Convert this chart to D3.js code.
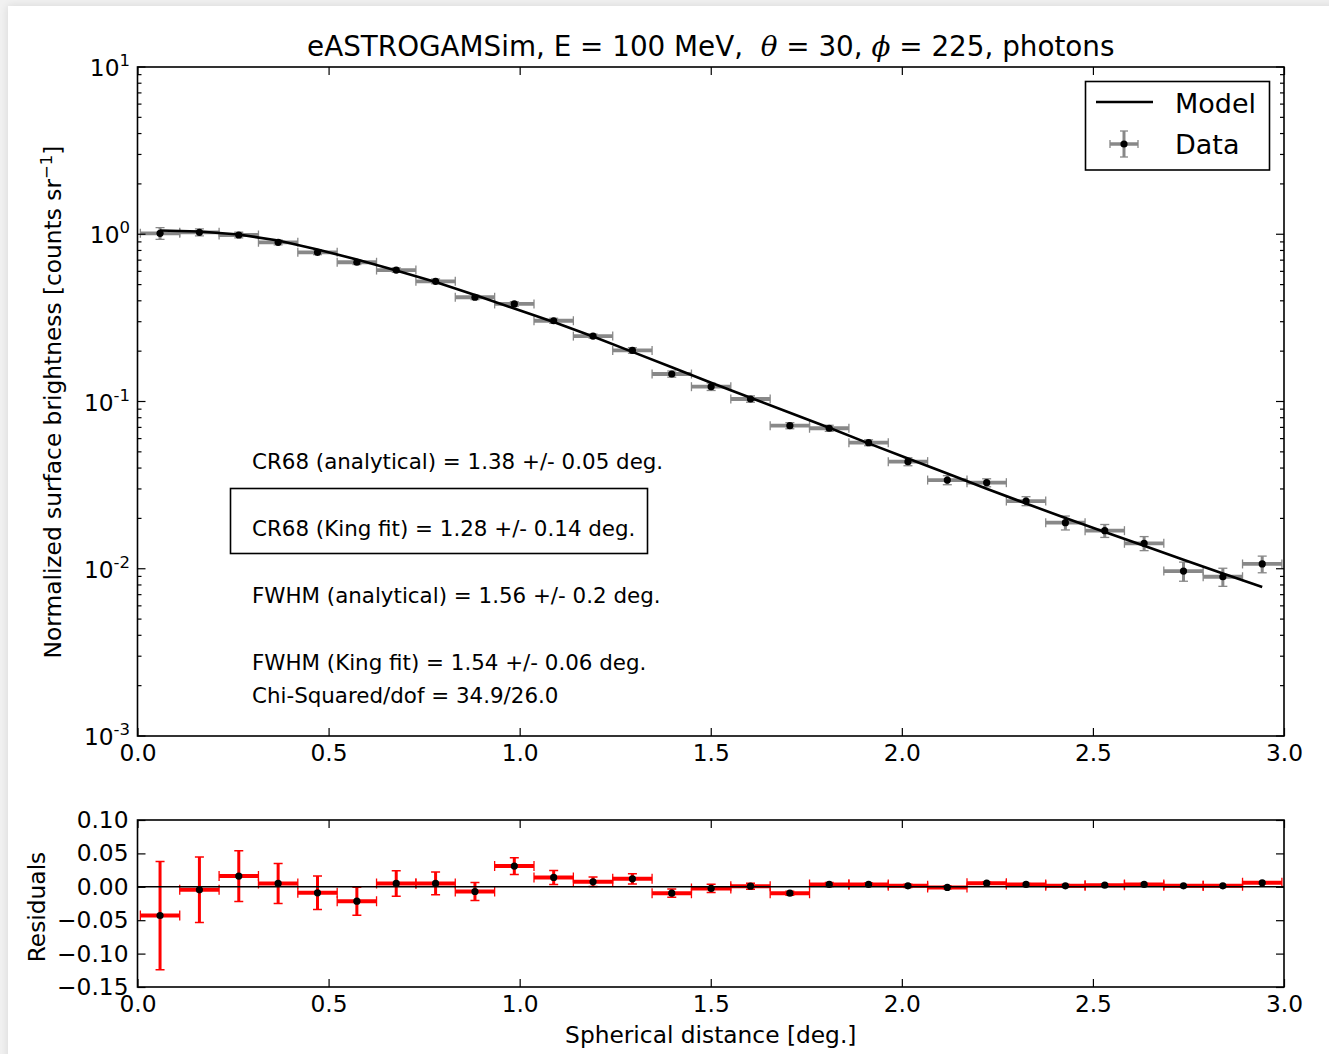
<!DOCTYPE html>
<html>
<head>
<meta charset="utf-8">
<script src="https://cdn.jsdelivr.net/npm/d3@7"></script>
<style>
  body { margin: 0; background: #f1f1f1; }
  svg { display: block; font-family: "DejaVu Sans", "Bitstream Vera Sans", sans-serif; }
</style>
</head>
<body>
<svg id="chart" width="1329" height="1054"></svg>
<script>
// Radial bins (deg.) and their half widths
const binCenters = [0.059, 0.162, 0.265, 0.368, 0.471, 0.574, 0.677, 0.780, 0.883, 0.986,
                    1.089, 1.192, 1.295, 1.398, 1.501, 1.604, 1.707, 1.810, 1.913, 2.016,
                    2.119, 2.222, 2.325, 2.428, 2.531, 2.634, 2.737, 2.840, 2.943];
const binHalfWidth = 0.0515;

// Measured surface brightness per bin and its uncertainty
const brightness = [1.013, 1.027, 0.990, 0.895, 0.780, 0.680, 0.611, 0.523, 0.420, 0.383,
                    0.304, 0.246, 0.202, 0.146, 0.1226, 0.1035, 0.0717, 0.0692, 0.0567, 0.0437,
                    0.0339, 0.0327, 0.0254, 0.01886, 0.01689, 0.0142, 0.00969, 0.00896, 0.01068];
const brightnessErr = [0.081, 0.049, 0.038, 0.030, 0.025, 0.021, 0.019, 0.017, 0.0135, 0.0125,
                       0.0105, 0.0072, 0.0077, 0.0062, 0.0062, 0.0045, 0.0030, 0.0029, 0.0023, 0.0024,
                       0.0021, 0.0018, 0.00157, 0.0018, 0.0015, 0.00137, 0.00127, 0.00111, 0.00122];

// King-function model evaluated at the bin centres
const model = [1.053, 1.039, 0.9966, 0.9175, 0.8107, 0.7066, 0.6070, 0.5182, 0.4333, 0.3598,
               0.2987, 0.2446, 0.1980, 0.1601, 0.1295, 0.1054, 0.0856, 0.0697, 0.0562, 0.0456,
               0.0371, 0.0301, 0.02455, 0.0201, 0.0166, 0.01373, 0.01133, 0.00937, 0.00778];

// Data minus model
const residuals = [-0.043, -0.0045, 0.016, 0.005, -0.009, -0.0215, 0.005, 0.005, -0.007, 0.031,
                   0.014, 0.0075, 0.012, -0.0095, -0.0025, 0.001, -0.0095, 0.0035, 0.0035, 0.0015,
                   -0.001, 0.0055, 0.0035, 0.0015, 0.0025, 0.0035, 0.0015, 0.0015, 0.006];

const xTicks = [0.0, 0.5, 1.0, 1.5, 2.0, 2.5, 3.0];
const yMainExponents = [-3, -2, -1, 0, 1];
const yResTicks = [-0.15, -0.10, -0.05, 0.00, 0.05, 0.10];

const fitResults = [
  "CR68 (analytical) = 1.38 +/- 0.05 deg.",
  "CR68 (King fit) = 1.28 +/- 0.14 deg.",
  "FWHM (analytical) = 1.56 +/- 0.2 deg.",
  "FWHM (King fit) = 1.54 +/- 0.06 deg.",
  "Chi-Squared/dof = 34.9/26.0"
];

const data = binCenters.map((x, i) => ({
  x, y: brightness[i], err: brightnessErr[i], m: model[i], r: residuals[i]
}));

const svg = d3.select("#chart");
const FONT = 23.3;

// page panel with a soft shadow along the top-left edge
const defs = svg.append("defs");
const f = defs.append("filter").attr("id", "shadow").attr("x", "-5%").attr("y", "-5%")
  .attr("width", "110%").attr("height", "110%");
f.append("feGaussianBlur").attr("in", "SourceAlpha").attr("stdDeviation", 4);
f.append("feOffset").attr("dx", 0).attr("dy", 0).attr("result", "b");
f.append("feComponentTransfer").append("feFuncA").attr("type", "linear").attr("slope", 0.12);
const fm = f.append("feMerge");
fm.append("feMergeNode");
fm.append("feMergeNode").attr("in", "SourceGraphic");
svg.append("rect").attr("x", 8).attr("y", 6).attr("width", 1340).attr("height", 1070)
  .attr("fill", "#fff").attr("filter", "url(#shadow)");

// scales
const L = 137.5, R = 1284;
const x = d3.scaleLinear().domain([0, 3]).range([L, R]);
const yMain = d3.scaleLog().domain([1e-3, 1e1]).range([736, 67]);
const yRes = d3.scaleLinear().domain([-0.15, 0.10]).range([987, 820]);

// ---------- main panel ----------
const main = svg.append("g");
const clipMain = defs.append("clipPath").attr("id", "clipMain");
clipMain.append("rect").attr("x", L).attr("y", 67).attr("width", R - L).attr("height", 736 - 67);
const mainPlot = main.append("g").attr("clip-path", "url(#clipMain)");

const GRAY = "#888888";
// horizontal bin bars
mainPlot.selectAll("line.xerr").data(data).join("line")
  .attr("x1", d => x(d.x - binHalfWidth)).attr("x2", d => x(d.x + binHalfWidth))
  .attr("y1", d => yMain(d.y)).attr("y2", d => yMain(d.y))
  .attr("stroke", GRAY).attr("stroke-width", 3.8);
mainPlot.selectAll("g.xcap").data(data).join("g").each(function (d) {
  const g = d3.select(this);
  [d.x - binHalfWidth, d.x + binHalfWidth].forEach(v => {
    g.append("line").attr("x1", x(v)).attr("x2", x(v))
      .attr("y1", yMain(d.y) - 4.5).attr("y2", yMain(d.y) + 4.5)
      .attr("stroke", GRAY).attr("stroke-width", 1.3);
  });
});
// vertical uncertainty bars
mainPlot.selectAll("line.yerr").data(data).join("line")
  .attr("x1", d => x(d.x)).attr("x2", d => x(d.x))
  .attr("y1", d => yMain(d.y - d.err)).attr("y2", d => yMain(d.y + d.err))
  .attr("stroke", GRAY).attr("stroke-width", 3);
mainPlot.selectAll("g.ycap").data(data).join("g").each(function (d) {
  const g = d3.select(this);
  [d.y - d.err, d.y + d.err].forEach(v => {
    g.append("line").attr("x1", x(d.x) - 4.5).attr("x2", x(d.x) + 4.5)
      .attr("y1", yMain(v)).attr("y2", yMain(v))
      .attr("stroke", GRAY).attr("stroke-width", 1.3);
  });
});
// model curve
mainPlot.append("path").datum(data)
  .attr("d", d3.line().x(d => x(d.x)).y(d => yMain(d.m)))
  .attr("fill", "none").attr("stroke", "#000").attr("stroke-width", 2.6);
// data points
mainPlot.selectAll("circle").data(data).join("circle")
  .attr("cx", d => x(d.x)).attr("cy", d => yMain(d.y)).attr("r", 3.6).attr("fill", "#000");

// main axes: inward ticks on all sides
const minorVals = [];
yMainExponents.slice(0, -1).forEach(e => { for (let k = 2; k <= 9; k++) minorVals.push(k * Math.pow(10, e)); });
const majorVals = yMainExponents.map(e => Math.pow(10, e));

function tickLines(g, vals, pos, len, orient) {
  vals.forEach(v => {
    const p = pos(v);
    if (orient === "left") g.append("line").attr("x1", L).attr("x2", L + len).attr("y1", p).attr("y2", p);
    if (orient === "right") g.append("line").attr("x1", R).attr("x2", R - len).attr("y1", p).attr("y2", p);
  });
}
const axMain = main.append("g").attr("stroke", "#000").attr("stroke-width", 1.2);
tickLines(axMain, majorVals, yMain, 8, "left");
tickLines(axMain, majorVals, yMain, 8, "right");
tickLines(axMain, minorVals, yMain, 4, "left");
tickLines(axMain, minorVals, yMain, 4, "right");

const xAxisMain = main.append("g").attr("transform", "translate(0,736)")
  .call(d3.axisBottom(x).tickValues(xTicks).tickFormat(d3.format(".1f")).tickSizeInner(-8).tickSizeOuter(0).tickPadding(8));
const xAxisMainTop = main.append("g").attr("transform", "translate(0,67)")
  .call(d3.axisTop(x).tickValues(xTicks).tickFormat("").tickSizeInner(-8).tickSizeOuter(0));
[xAxisMain, xAxisMainTop].forEach(a => {
  a.select(".domain").remove();
  a.selectAll(".tick line").attr("stroke-width", 1.2);
});
xAxisMain.selectAll("text").attr("font-size", FONT).attr("font-family", "DejaVu Sans").attr("fill", "#000");

// log tick labels 10^n
const yLab = main.append("g");
yMainExponents.forEach(e => {
  const t = yLab.append("text").attr("x", 130).attr("y", yMain(Math.pow(10, e)) + 9)
    .attr("text-anchor", "end").attr("font-size", FONT).attr("fill", "#000");
  t.append("tspan").text("10");
  t.append("tspan").attr("dy", -10).attr("font-size", 16.5).text(e < 0 ? "-" + Math.abs(e) : String(e));
});

main.append("rect").attr("x", L).attr("y", 67).attr("width", R - L).attr("height", 736 - 67)
  .attr("fill", "none").attr("stroke", "#000").attr("stroke-width", 1.6);

// title
const title = svg.append("text").attr("x", (L + R) / 2).attr("y", 56)
  .attr("text-anchor", "middle").attr("font-size", 27.8).attr("fill", "#000")
  .style("white-space", "pre");
title.append("tspan").text("eASTROGAMSim, E = 100 MeV,\u00a0\u00a0");
title.append("tspan").attr("font-style", "italic").attr("font-family", "DejaVu Serif").text("θ");
title.append("tspan").text(" = 30, ");
title.append("tspan").attr("font-style", "italic").attr("font-family", "DejaVu Serif").text("ϕ");
title.append("tspan").text(" = 225, photons");

// y axis label
const yl = svg.append("text").attr("transform", "translate(61,402) rotate(-90)")
  .attr("text-anchor", "middle").attr("font-size", FONT).attr("fill", "#000");
yl.append("tspan").text("Normalized surface brightness [counts sr");
yl.append("tspan").attr("dy", -9).attr("font-size", 16.5).text("−1");
yl.append("tspan").attr("dy", 9).text("]");

// legend
const leg = svg.append("g");
leg.append("rect").attr("x", 1085.5).attr("y", 81.5).attr("width", 184).attr("height", 88.5)
  .attr("fill", "#fff").attr("stroke", "#000").attr("stroke-width", 1.6);
leg.append("line").attr("x1", 1096).attr("x2", 1153).attr("y1", 102).attr("y2", 102)
  .attr("stroke", "#000").attr("stroke-width", 2.6);
leg.append("line").attr("x1", 1110).attr("x2", 1138).attr("y1", 144).attr("y2", 144)
  .attr("stroke", GRAY).attr("stroke-width", 3.5);
leg.append("line").attr("x1", 1124).attr("x2", 1124).attr("y1", 131).attr("y2", 157)
  .attr("stroke", GRAY).attr("stroke-width", 3);
[[1110, 1110, 140, 148], [1138, 1138, 140, 148], [1120, 1128, 131, 131], [1120, 1128, 157, 157]].forEach(c => {
  leg.append("line").attr("x1", c[0]).attr("x2", c[1]).attr("y1", c[2]).attr("y2", c[3])
    .attr("stroke", GRAY).attr("stroke-width", 1.3);
});
leg.append("circle").attr("cx", 1124).attr("cy", 144).attr("r", 3.6).attr("fill", "#000");
leg.append("text").attr("x", 1175).attr("y", 113).attr("font-size", 27).text("Model");
leg.append("text").attr("x", 1175).attr("y", 154).attr("font-size", 27).text("Data");

// fit summary text
const fitY = [469, 536, 603, 670, 703];
fitResults.forEach((s, i) => {
  svg.append("text").attr("x", 252).attr("y", fitY[i]).attr("font-size", 21.4).attr("fill", "#000").text(s);
});
svg.append("rect").attr("x", 230.5).attr("y", 488.5).attr("width", 417).attr("height", 65)
  .attr("fill", "none").attr("stroke", "#000").attr("stroke-width", 1.6);

// ---------- residual panel ----------
const res = svg.append("g");
const clipRes = defs.append("clipPath").attr("id", "clipRes");
clipRes.append("rect").attr("x", L).attr("y", 820).attr("width", R - L).attr("height", 167);
const resPlot = res.append("g").attr("clip-path", "url(#clipRes)");
const RED = "#ff0000";

resPlot.selectAll("line.xerr").data(data).join("line")
  .attr("x1", d => x(d.x - binHalfWidth)).attr("x2", d => x(d.x + binHalfWidth))
  .attr("y1", d => yRes(d.r)).attr("y2", d => yRes(d.r))
  .attr("stroke", RED).attr("stroke-width", 4);
resPlot.selectAll("g.xcap").data(data).join("g").each(function (d) {
  const g = d3.select(this);
  [d.x - binHalfWidth, d.x + binHalfWidth].forEach(v => {
    g.append("line").attr("x1", x(v)).attr("x2", x(v))
      .attr("y1", yRes(d.r) - 5).attr("y2", yRes(d.r) + 5)
      .attr("stroke", RED).attr("stroke-width", 1.3);
  });
});
resPlot.selectAll("line.yerr").data(data).join("line")
  .attr("x1", d => x(d.x)).attr("x2", d => x(d.x))
  .attr("y1", d => yRes(d.r - d.err)).attr("y2", d => yRes(d.r + d.err))
  .attr("stroke", RED).attr("stroke-width", 3);
resPlot.selectAll("g.ycap").data(data).join("g").each(function (d) {
  const g = d3.select(this);
  [d.r - d.err, d.r + d.err].forEach(v => {
    g.append("line").attr("x1", x(d.x) - 4.5).attr("x2", x(d.x) + 4.5)
      .attr("y1", yRes(v)).attr("y2", yRes(v))
      .attr("stroke", RED).attr("stroke-width", 1.5);
  });
});
resPlot.append("line").attr("x1", L).attr("x2", R).attr("y1", yRes(0)).attr("y2", yRes(0))
  .attr("stroke", "#000").attr("stroke-width", 1.5);
resPlot.selectAll("circle").data(data).join("circle")
  .attr("cx", d => x(d.x)).attr("cy", d => yRes(d.r)).attr("r", 3.6).attr("fill", "#000");

const xAxisRes = res.append("g").attr("transform", "translate(0,987)")
  .call(d3.axisBottom(x).tickValues(xTicks).tickFormat(d3.format(".1f")).tickSizeInner(-8).tickSizeOuter(0).tickPadding(8));
const xAxisResTop = res.append("g").attr("transform", "translate(0,820)")
  .call(d3.axisTop(x).tickValues(xTicks).tickFormat("").tickSizeInner(-8).tickSizeOuter(0));
const yAxisRes = res.append("g").attr("transform", `translate(${L},0)`)
  .call(d3.axisLeft(yRes).tickValues(yResTicks).tickFormat(d3.format(".2f")).tickSizeInner(-8).tickSizeOuter(0).tickPadding(9));
const yAxisResR = res.append("g").attr("transform", `translate(${R},0)`)
  .call(d3.axisRight(yRes).tickValues(yResTicks).tickFormat("").tickSizeInner(-8).tickSizeOuter(0));
[xAxisRes, xAxisResTop, yAxisRes, yAxisResR].forEach(a => {
  a.select(".domain").remove();
  a.selectAll(".tick line").attr("stroke-width", 1.2);
});
[xAxisRes, yAxisRes].forEach(a => a.selectAll("text")
  .attr("font-size", FONT).attr("font-family", "DejaVu Sans").attr("fill", "#000"));

res.append("rect").attr("x", L).attr("y", 820).attr("width", R - L).attr("height", 167)
  .attr("fill", "none").attr("stroke", "#000").attr("stroke-width", 1.6);

svg.append("text").attr("transform", "translate(45,907) rotate(-90)")
  .attr("text-anchor", "middle").attr("font-size", FONT).attr("fill", "#000").text("Residuals");
svg.append("text").attr("x", (L + R) / 2).attr("y", 1043)
  .attr("text-anchor", "middle").attr("font-size", FONT).attr("fill", "#000").text("Spherical distance [deg.]");
</script>
</body>
</html>
